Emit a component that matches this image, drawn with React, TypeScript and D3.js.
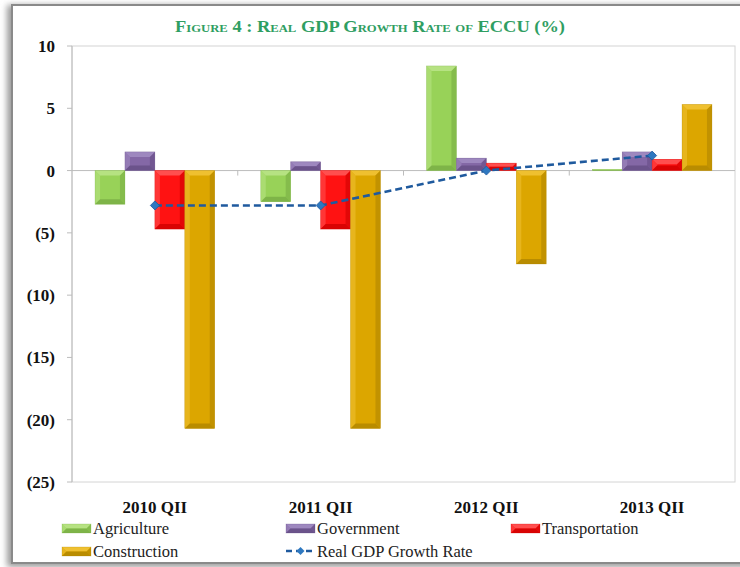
import React from "react";
import * as d3 from "d3";

const categories = ["2010 QII", "2011 QII", "2012 QII", "2013 QII"];
const seriesNames = ["Agriculture", "Government", "Transportation", "Construction"];
const agriculture = [-2.7, -2.5, 8.4, 0.1];
const government = [1.5, 0.7, 1.0, 1.5];
const transportation = [-4.7, -4.7, 0.6, 0.9];
const construction = [-20.7, -20.7, -7.5, 5.3];
const gdpGrowth = [-2.8, -2.8, 0.0, 1.2];
const yTicks = [10, 5, 0, -5, -10, -15, -20, -25];

const seriesValues = [agriculture, government, transportation, construction];
const palette = [
  { base: "#98d258", light: "#b6e282", dark: "#78ad45" },
  { base: "#8468a6", light: "#9e88bf", dark: "#654d85" },
  { base: "#ff1212", light: "#ff4f4f", dark: "#d00000" },
  { base: "#dca600", light: "#efc030", dark: "#b08600" },
];

const W = 740, H = 567;
const M = { left: 72, right: 735, top: 46, bottom: 482 };

function fmt(v: number) {
  return v < 0 ? `(${Math.abs(v)})` : `${v}`;
}

function Bar({ x, y, w, h, c }: { x: number; y: number; w: number; h: number; c: any }) {
  const b = Math.min(5, w / 2, h / 2);
  return (
    <g>
      <rect x={x} y={y} width={w} height={h} fill={c.base} />
      <polygon points={`${x},${y} ${x + w},${y} ${x + w - b},${y + b} ${x + b},${y + b}`} fill={c.light} />
      <polygon points={`${x},${y} ${x + b},${y + b} ${x + b},${y + h - b} ${x},${y + h}`} fill={c.light} opacity={0.6} />
      <polygon points={`${x + w},${y} ${x + w - b},${y + b} ${x + w - b},${y + h - b} ${x + w},${y + h}`} fill={c.dark} opacity={0.6} />
      <polygon points={`${x},${y + h} ${x + b},${y + h - b} ${x + w - b},${y + h - b} ${x + w},${y + h}`} fill={c.dark} opacity={0.8} />
      <rect x={x} y={y} width={w} height={h} fill="none" stroke={c.dark} strokeWidth={0.5} opacity={0.5} />
    </g>
  );
}

export default function App() {
  const x0 = d3.scaleBand<string>().domain(categories).range([M.left, M.right]).padding(0);
  const x1 = d3
    .scaleBand<string>()
    .domain(seriesNames)
    .range([0, x0.bandwidth()])
    .paddingInner(0)
    .paddingOuter(0.77);
  const y = d3.scaleLinear().domain([-25, 10]).range([M.bottom, M.top]);

  const linePts = categories.map((c, i) => [x0(c)! + x0.bandwidth() / 2, y(gdpGrowth[i])] as [number, number]);
  const line = d3.line()(linePts) || "";

  const serif = "'Liberation Serif', 'DejaVu Serif', serif";
  const diamond = (cx: number, cy: number, r: number) =>
    `${cx},${cy - r} ${cx + r},${cy} ${cx},${cy + r} ${cx - r},${cy}`;

  const legendItems = [
    { name: "Agriculture", c: palette[0], lx: 62, ly: 528 },
    { name: "Government", c: palette[1], lx: 286, ly: 528 },
    { name: "Transportation", c: palette[2], lx: 511, ly: 528 },
    { name: "Construction", c: palette[3], lx: 62, ly: 551 },
  ];

  return (
    <svg width={W} height={H} style={{ position: "absolute", left: 0, top: 0, background: "#fff" }}>
      <defs>
        <filter id="shadow" x="-5%" y="-5%" width="110%" height="110%">
          <feGaussianBlur stdDeviation="3" />
        </filter>
      </defs>
      {/* frame */}
      <rect x={7} y={5} width={760} height={562} fill="#9a9a9a" filter="url(#shadow)" />
      <rect x={12} y={5} width={740} height={558} fill="#fff" stroke="#8a8a8a" strokeWidth={2} />

      {/* title */}
      <text
        x={370}
        y={32}
        textAnchor="middle"
        fontFamily={serif}
        fontWeight="bold"
        fontSize={16}
        fill="#2f9e62"
        style={{ fontVariant: "small-caps" }}
        textLength={390}
        lengthAdjust="spacingAndGlyphs"
      >
        Figure 4 : Real GDP Growth Rate of ECCU (%)
      </text>

      {/* plot border */}
      <rect x={M.left} y={M.top} width={M.right - M.left} height={M.bottom - M.top} fill="none" stroke="#d4d4d4" strokeWidth={1} />
      <line x1={M.left} x2={M.left} y1={M.top} y2={M.bottom} stroke="#bcbcbc" strokeWidth={1} />

      {/* y ticks */}
      {yTicks.map((t) => (
        <g key={t}>
          <line x1={M.left - 5} x2={M.left} y1={y(t)} y2={y(t)} stroke="#bcbcbc" />
          <text x={55} y={y(t)} dy="0.35em" textAnchor="end" fontFamily={serif} fontWeight="bold" fontSize={17} fill="#111">
            {fmt(t)}
          </text>
        </g>
      ))}

      {/* zero axis */}
      <line x1={M.left} x2={M.right} y1={y(0)} y2={y(0)} stroke="#bcbcbc" strokeWidth={1} />
      {categories.map((c, i) =>
        i > 0 ? <line key={c} x1={x0(c)!} x2={x0(c)!} y1={y(0)} y2={y(0) + 5} stroke="#bcbcbc" /> : null
      )}

      {/* bars */}
      {categories.map((c, i) => (
        <g key={c}>
          {seriesNames.map((s, j) => {
            const v = seriesValues[j][i];
            const bx = x0(c)! + x1(s)!;
            const top = y(Math.max(0, v));
            const bottom = y(Math.min(0, v));
            return <Bar key={s} x={bx} y={top} w={x1.bandwidth()} h={Math.max(0.8, bottom - top)} c={palette[j]} />;
          })}
        </g>
      ))}

      {/* GDP line */}
      <path d={line} fill="none" stroke="#1f5a9e" strokeWidth={2.6} strokeDasharray="7,4" />
      {linePts.map(([px, py], i) => (
        <polygon key={i} points={diamond(px, py, 4.5)} fill="#2e78c0" stroke="#1f5a9e" strokeWidth={0.8} />
      ))}

      {/* category labels */}
      {categories.map((c) => (
        <text key={c} x={x0(c)! + x0.bandwidth() / 2} y={507} dy="0.35em" textAnchor="middle" fontFamily={serif} fontWeight="bold" fontSize={17} fill="#111">
          {c}
        </text>
      ))}

      {/* legend */}
      {legendItems.map((it) => (
        <g key={it.name}>
          <Bar x={it.lx} y={it.ly - 4} w={29} h={9} c={it.c} />
          <text x={it.lx + 31} y={it.ly} dy="0.35em" fontFamily={serif} fontSize={16.5} fill="#222">
            {it.name}
          </text>
        </g>
      ))}
      <g>
        <line x1={286} x2={315} y1={551} y2={551} stroke="#1f5a9e" strokeWidth={2.6} strokeDasharray="6,4" />
        <polygon points={diamond(300.5, 551, 4)} fill="#2e78c0" />
        <text x={317} y={551} dy="0.35em" fontFamily={serif} fontSize={16.5} fill="#222">
          Real GDP Growth Rate
        </text>
      </g>
    </svg>
  );
}
